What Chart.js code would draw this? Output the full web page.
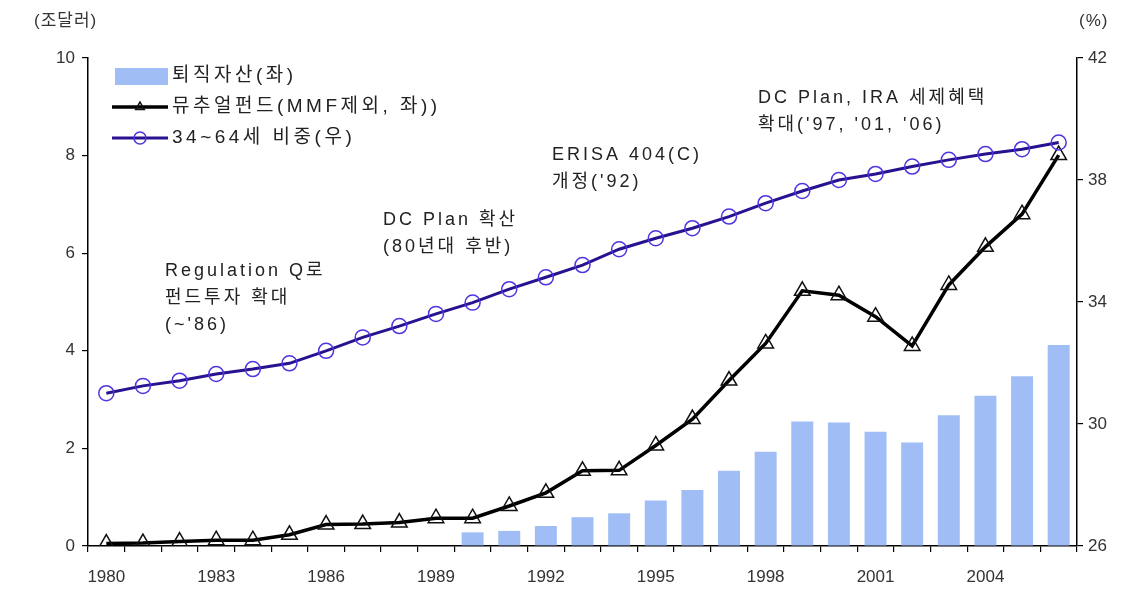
<!DOCTYPE html>
<html>
<head>
<meta charset="utf-8">
<script src="https://cdn.jsdelivr.net/npm/chart.js@4.4.1/dist/chart.umd.min.js"></script>
<style>
  html, body { margin: 0; padding: 0; background: #fff; }
  #wrap { width: 1132px; height: 592px; }
</style>
</head>
<body>
<div id="wrap"><canvas id="myChart" width="1132" height="592"></canvas></div>
<script>
var years = ["1980","1981","1982","1983","1984","1985","1986","1987","1988","1989",
             "1990","1991","1992","1993","1994","1995","1996","1997","1998","1999",
             "2000","2001","2002","2003","2004","2005","2006"];

// 퇴직자산 (조달러), 1990년부터
var retireAssets = [null,null,null,null,null,null,null,null,null,null,
                    0.28,0.31,0.41,0.59,0.67,0.93,1.15,1.54,1.93,2.55,
                    2.53,2.34,2.12,2.68,3.08,3.48,4.12];

// 뮤추얼펀드 (MMF 제외, 조달러)
var mutualFunds = [0.05,0.06,0.09,0.12,0.12,0.23,0.44,0.45,0.48,0.57,
                   0.57,0.82,1.09,1.54,1.55,2.06,2.60,3.39,4.15,5.23,
                   5.14,4.70,4.10,5.35,6.13,6.80,8.01];

// 34~64세 인구 비중 (%)
var ageShare = [31.01,31.25,31.42,31.64,31.80,31.99,32.40,32.84,33.21,33.61,
                33.98,34.42,34.81,35.21,35.73,36.09,36.42,36.80,37.24,37.64,
                38.00,38.20,38.44,38.66,38.85,39.01,39.23];

var leftTicks = [0, 2, 4, 6, 8, 10];
var rightTicks = [26, 30, 34, 38, 42];

var FONT = "Arial, 'Liberation Sans', 'Noto Sans CJK KR', sans-serif";
var BAR_COLOR = "#a0bef5";
var PURPLE_LINE = "#2a1190";
var PURPLE_MARK = "#4b35e0";

var notes = [
  { x: 165, y: 271, lines: ["Regulation Q로", "펀드투자 확대", "(~'86)"] },
  { x: 383, y: 220, lines: ["DC Plan 확산", "(80년대 후반)"] },
  { x: 552, y: 155, lines: ["ERISA 404(C)", "개정('92)"] },
  { x: 758, y: 98,  lines: ["DC Plan, IRA 세제혜택", "확대('97, '01, '06)"] }
];

// legend and free text drawn by hand
var extras = {
  id: "extras",
  afterDraw: function(chart) {
    var ctx = chart.ctx;
    var ds = chart.data.datasets;
    ctx.save();
    ctx.textBaseline = "middle";

    // legend
    ctx.fillStyle = ds[0].backgroundColor;
    ctx.fillRect(115, 68, 53, 17);
    [1, 2].forEach(function(i, k) {
      var y = 107 + k * 31;
      ctx.strokeStyle = ds[i].borderColor;
      ctx.lineWidth = ds[i].borderWidth;
      ctx.beginPath();
      ctx.moveTo(112, y);
      ctx.lineTo(168, y);
      ctx.stroke();
      ctx.fillStyle = "rgba(255,255,255,0)";
      ctx.strokeStyle = ds[i].pointBorderColor;
      ctx.lineWidth = ds[i].pointBorderWidth;
      Chart.helpers.drawPoint(ctx, {
        pointStyle: ds[i].pointStyle,
        radius: i === 1 ? 5 : 6,
        borderWidth: ds[i].pointBorderWidth
      }, 140, y);
    });
    ctx.font = "19px " + FONT;
    ctx.letterSpacing = "3.5px";
    ctx.fillStyle = "#222";
    ds.forEach(function(d, i) {
      ctx.fillText(d.label, 172, 76 + i * 31);
    });

    // notes
    ctx.font = "18px " + FONT;
    ctx.letterSpacing = "3px";
    notes.forEach(function(n) {
      n.lines.forEach(function(t, j) {
        ctx.fillText(t, n.x, n.y + j * 27);
      });
    });

    // axis units
    ctx.font = "17px " + FONT;
    ctx.letterSpacing = "1px";
    ctx.fillStyle = "#333";
    ctx.fillText("(조달러)", 34, 21);
    ctx.fillText("(%)", 1079, 21);
    ctx.restore();
  }
};

var tickFont = { family: FONT, size: 17 };

new Chart("myChart", {
  type: "bar",
  data: {
    labels: years,
    datasets: [{
      type: "bar",
      label: "퇴직자산(좌)",
      data: retireAssets,
      backgroundColor: BAR_COLOR,
      yAxisID: "y",
      barPercentage: 0.6,
      categoryPercentage: 1,
      order: 3
    }, {
      type: "line",
      label: "뮤추얼펀드(MMF제외, 좌))",
      data: mutualFunds,
      borderColor: "#000",
      borderWidth: 3.5,
      pointStyle: "triangle",
      pointRadius: 9,
      pointBorderColor: "#111",
      pointBorderWidth: 1.5,
      pointBackgroundColor: "rgba(255,255,255,0)",
      yAxisID: "y",
      tension: 0,
      order: 2
    }, {
      type: "line",
      label: "34~64세 비중(우)",
      data: ageShare,
      borderColor: PURPLE_LINE,
      borderWidth: 3,
      pointStyle: "circle",
      pointRadius: 7.5,
      pointBorderColor: PURPLE_MARK,
      pointBorderWidth: 1.5,
      pointBackgroundColor: "rgba(255,255,255,0)",
      yAxisID: "y1",
      tension: 0,
      order: 1
    }]
  },
  options: {
    responsive: false,
    animation: false,
    layout: { padding: { top: 58, left: 0, right: 0, bottom: 0 } },
    plugins: {
      legend: { display: false },
      tooltip: { enabled: false }
    },
    scales: {
      x: {
        offset: true,
        grid: { offset: true, drawOnChartArea: false, drawTicks: true, tickLength: 6, color: "#000", lineWidth: 1.2 },
        border: { color: "#000", width: 1.5 },
        ticks: {
          autoSkip: false, maxRotation: 0, padding: 15,
          color: "#333", font: tickFont,
          callback: function(v, i) { return i % 3 === 0 ? years[i] : ""; }
        },
        afterFit: function(s) { s.height = 46; }
      },
      y: {
        position: "left",
        min: 0, max: 10,
        afterBuildTicks: function(s) { s.ticks = leftTicks.map(function(v) { return { value: v }; }); },
        grid: { drawOnChartArea: false, drawTicks: true, tickLength: 6, color: "#000", lineWidth: 1.2 },
        border: { color: "#000", width: 1.5 },
        ticks: { padding: 7, color: "#333", font: tickFont },
        afterFit: function(s) { s.width = 88; }
      },
      y1: {
        position: "right",
        min: 26, max: 42,
        afterBuildTicks: function(s) { s.ticks = rightTicks.map(function(v) { return { value: v }; }); },
        grid: { drawOnChartArea: false, drawTicks: true, tickLength: 6, color: "#000", lineWidth: 1.2 },
        border: { color: "#000", width: 1.5 },
        ticks: { padding: 5, color: "#333", font: tickFont },
        afterFit: function(s) { s.width = 55; }
      }
    }
  },
  plugins: [extras]
});
</script>
</body>
</html>
